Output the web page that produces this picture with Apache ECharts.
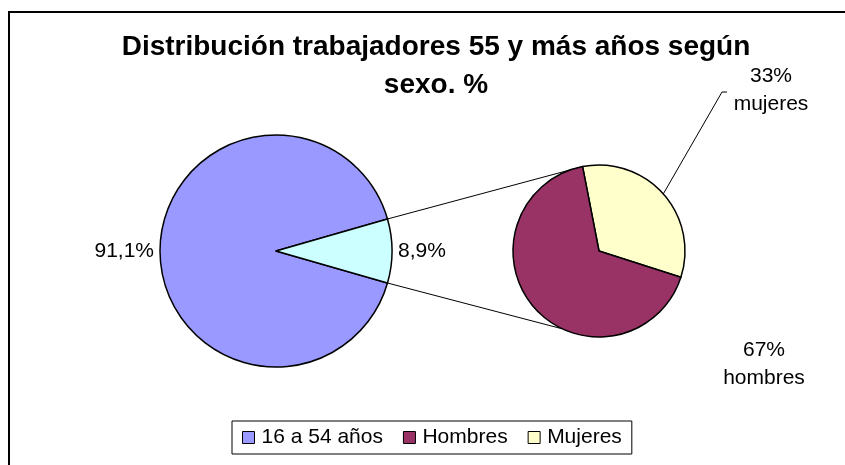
<!DOCTYPE html>
<html>
<head>
<meta charset="utf-8">
<script src="https://cdn.jsdelivr.net/npm/echarts@6/dist/echarts.min.js"></script>
<style>
  html, body { margin: 0; padding: 0; background: #fff; }
  #main { width: 845px; height: 465px; }
</style>
</head>
<body>
<div id="main"></div>
<script>
// datos
const mainNames = ['16 a 54 años', '55 y más años'];
const mainValues = [91.1, 8.9];
const sexNames = ['Mujeres', 'Hombres'];
const sexValues = [33, 67];
const legendNames = ['16 a 54 años', 'Hombres', 'Mujeres'];

const colors = {
  '16 a 54 años': '#9999FF',
  '55 y más años': '#CCFFFF',
  'Hombres': '#993366',
  'Mujeres': '#FFFFCC'
};

const font = 'Liberation Sans, Arial, sans-serif';
const c1 = [276, 251], r1 = 116;
const c2 = [599, 251], r2 = 86;
const sexStart = 101;

// el trozo pequeño queda centrado a la derecha
const half = mainValues[1] / 100 * 180;
const rad = Math.PI / 180;
function pt(c, r, a) {
  return [c[0] + r * Math.cos(a * rad), c[1] - r * Math.sin(a * rad)];
}

let chart = echarts.init(document.getElementById('main'));

let option = {
  animation: false,
  title: {
    text: 'Distribución trabajadores 55 y más años según\nsexo. %',
    left: 436,
    top: 28,
    padding: 0,
    textAlign: 'center',
    textStyle: {
      fontFamily: font,
      fontWeight: 'bold',
      fontSize: 28,
      lineHeight: 38,
      color: '#000'
    }
  },
  legend: {
    data: legendNames,
    left: 232,
    top: 421,
    padding: [6, 10],
    itemGap: 20,
    itemWidth: 12,
    itemHeight: 12,
    borderColor: '#000',
    borderWidth: 1,
    icon: 'rect',
    itemStyle: { borderColor: '#000', borderWidth: 1 },
    textStyle: { fontFamily: font, fontSize: 21, color: '#000', padding: [0, 0, 0, 2] }
  },
  graphic: [
    {
      type: 'rect',
      shape: { x: 9, y: 12, width: 900, height: 500 },
      style: { fill: 'none', stroke: '#000', lineWidth: 2 }
    },
    {
      type: 'polyline',
      shape: { points: [pt(c1, r1, half), pt(c2, r2, sexStart)] },
      style: { stroke: '#000', lineWidth: 1, fill: 'none' }
    },
    {
      type: 'polyline',
      shape: { points: [pt(c1, r1, -half), pt(c2, r2, 245)] },
      style: { stroke: '#000', lineWidth: 1, fill: 'none' }
    }
  ],
  series: [
    {
      type: 'pie',
      center: c1,
      radius: r1,
      startAngle: -half,
      avoidLabelOverlap: false,
      itemStyle: { borderColor: '#000', borderWidth: 1.5 },
      label: {
        position: 'outside',
        distanceToLabelLine: 6,
        fontFamily: font,
        fontSize: 21,
        color: '#000',
        formatter: (p) => String(p.value).replace('.', ',') + '%'
      },
      labelLine: { show: false, length: 0, length2: 0 },
      emphasis: { disabled: true },
      data: mainNames.map((n, i) => ({ name: n, value: mainValues[i], itemStyle: { color: colors[n] } }))
    },
    {
      type: 'pie',
      center: c2,
      radius: r2,
      startAngle: sexStart,
      avoidLabelOverlap: false,
      itemStyle: { borderColor: '#000', borderWidth: 1.5 },
      label: {
        position: 'outside',
        fontFamily: font,
        fontSize: 21,
        lineHeight: 28,
        color: '#000',
        align: 'center',
        formatter: (p) => p.value + '%\n' + p.name.toLowerCase()
      },
      labelLine: { show: true, lineStyle: { color: '#000', width: 1 } },
      labelLayout: function (p) {
        if (p.dataIndex === 0) {
          const p0 = p.labelLinePoints ? p.labelLinePoints[0] : pt(c2, r2, 41.6);
          return {
            x: 771, y: 90, align: 'center', verticalAlign: 'middle',
            labelLinePoints: [p0, [722, 92], [727, 92]]
          };
        }
        return { x: 764, y: 364, align: 'center', verticalAlign: 'middle' };
      },
      emphasis: { disabled: true },
      data: sexNames.map((n, i) => ({
        name: n,
        value: sexValues[i],
        itemStyle: { color: colors[n] },
        labelLine: { show: i === 0 }
      }))
    }
  ]
};

chart.setOption(option);
</script>
</body>
</html>
